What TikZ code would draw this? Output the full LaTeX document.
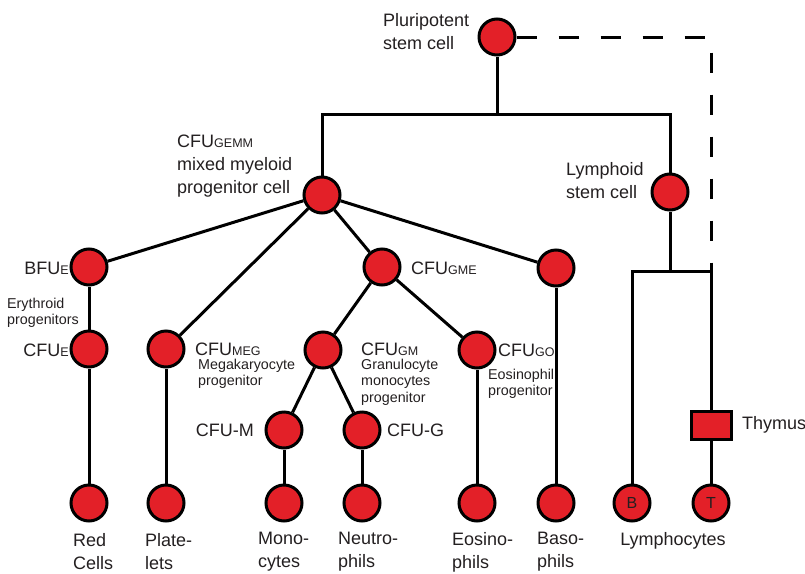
\documentclass[tikz,border=0pt]{standalone}
\usepackage{fontspec}
\setmainfont{Liberation Sans}
\usepackage{tikz}
\usetikzlibrary{positioning}
\definecolor{cellred}{HTML}{E32028}
\definecolor{ink}{HTML}{231F20}
\newcommand{\subsc}[1]{{\fontsize{12.5}{12.5}\selectfont #1}}

\begin{document}
\begin{tikzpicture}[
    x=1pt, y=-1pt,
    % cells and organ
    cell/.style={circle, draw=black, line width=3pt, fill=cellred, minimum size=36pt, inner sep=0pt},
    organ/.style={rectangle, draw=black, line width=3pt, fill=cellred, minimum width=40pt, minimum height=28pt, inner sep=0pt},
    link/.style={draw=black, line width=3pt},
    lbl/.style={text=ink, inner sep=0pt, align=left, font=\fontsize{18}{23}\selectfont},
    note/.style={text=ink, inner sep=0pt, align=left, font=\fontsize{14.3}{16.5}\selectfont},
]
\useasboundingbox (0,0) rectangle (805,573);

% =========================================================
% stem cells
% =========================================================
\node[cell] (pluri) at (497, 37) {};
\node[cell] (gemm)  at (322,195) {};
\node[cell] (lymph) at (670,192) {};

\coordinate (top)    at (497,114);
\coordinate (lsplit) at (670,271);
\coordinate (lright) at (711,271);

% =========================================================
% myeloid line
% =========================================================
\node[cell] (bfue) at ( 89,267) {};
\node[cell] (cfue) at ( 89,349) {};
\node[cell] (meg)  at (166,349) {};
\node[cell] (gme)  at (382,267) {};
\node[cell] (baso) at (556,268) {};
\node[cell] (gm)   at (323,350) {};
\node[cell] (go)   at (477,350) {};
\node[cell] (cfum) at (284,430) {};
\node[cell] (cfug) at (362,430) {};

% mature cells (bottom row)
\node[cell] (red)    at ( 89,503) {};
\node[cell] (plate)  at (166,503) {};
\node[cell] (mono)   at (284,503) {};
\node[cell] (neutro) at (362,503) {};
\node[cell] (eosino) at (477,503) {};
\node[cell] (basoph) at (556,503) {};

% =========================================================
% lymphoid line
% =========================================================
\node[organ] (thymus) at (711,425) {};
\node[cell, font=\fontsize{16}{16}\selectfont, text=ink] (bcell) at (632,503) {B};
\node[cell, font=\fontsize{16}{16}\selectfont, text=ink] (tcell) at (711,503) {T};

% edges
\draw[link] (pluri) -- (top);
\draw[link] (gemm) |- (top) -| (lymph);
\draw[link, dash pattern=on 20pt off 22pt] (pluri) -| (lright);

\draw[link] (gemm) -- (bfue);
\draw[link] (gemm) -- (meg);
\draw[link] (gemm) -- (gme);
\draw[link] (gemm) -- (baso);
\draw[link] (gme) -- (gm);
\draw[link] (gme) -- (go);
\draw[link] (gm) -- (cfum);
\draw[link] (gm) -- (cfug);

\draw[link] (bfue) -- (cfue);
\draw[link] (cfue) -- (red);
\draw[link] (meg) -- (plate);
\draw[link] (cfum) -- (mono);
\draw[link] (cfug) -- (neutro);
\draw[link] (go) -- (eosino);
\draw[link] (baso) -- (basoph);

\draw[link] (lymph) -- (lsplit);
\draw[link] (bcell) |- (lright) -- (thymus);
\draw[link] (thymus) -- (tcell);

% labels
\node[lbl, anchor=west] (pluriL) at (383, 32) {Pluripotent\\stem cell};
\node[lbl, anchor=west] (gemmL)  at (177,166) {CFU\subsc{GEMM}\\mixed myeloid\\progenitor cell};
\node[lbl, anchor=west] (lymphL) at (566,181) {Lymphoid\\stem cell};

\node[lbl, anchor=east]  (bfueL) at ( 69,268) {BFU\subsc{E}};
\node[note, anchor=west] (eryL)  at (  7,313) {Erythroid\\progenitors};
\node[lbl, anchor=east]  (cfueL) at ( 69,350) {CFU\subsc{E}};
\node[lbl, anchor=west]  (megL)  at (195,349) {CFU\subsc{MEG}};
\node[note, anchor=west] (megN)  at (198,374) {Megakaryocyte\\progenitor};
\node[lbl, anchor=west]  (gmeL)  at (411,268) {CFU\subsc{GME}};
\node[lbl, anchor=west]  (gmL)   at (361,349) {CFU\subsc{GM}};
\node[note, anchor=west] (gmN)   at (361,382) {Granulocyte\\monocytes\\progenitor};
\node[lbl, anchor=west]  (goL)   at (498,350) {CFU\subsc{GO}};
\node[note, anchor=west] (goN)   at (488,384) {Eosinophil\\progenitor};
\node[lbl, anchor=east]  (cfumL) at (254,430) {CFU-M};
\node[lbl, anchor=west]  (cfugL) at (387,430) {CFU-G};
\node[lbl, anchor=west]  (thymL) at (742,425) {Thymus};

\node[lbl, anchor=west] (redL)    at ( 73,552) {Red\\Cells};
\node[lbl, anchor=west] (plateL)  at (145,552) {Plate-\\lets};
\node[lbl, anchor=west] (monoL)   at (258,552) {Mono-\\cytes};
\node[lbl, anchor=west] (neutroL) at (338,552) {Neutro-\\phils};
\node[lbl, anchor=west] (eosinoL) at (452,552) {Eosino-\\phils};
\node[lbl, anchor=west] (basoL)   at (537,552) {Baso-\\phils};
\node[lbl] (lymphoL) at (673,541) {Lymphocytes};

\end{tikzpicture}
\end{document}
